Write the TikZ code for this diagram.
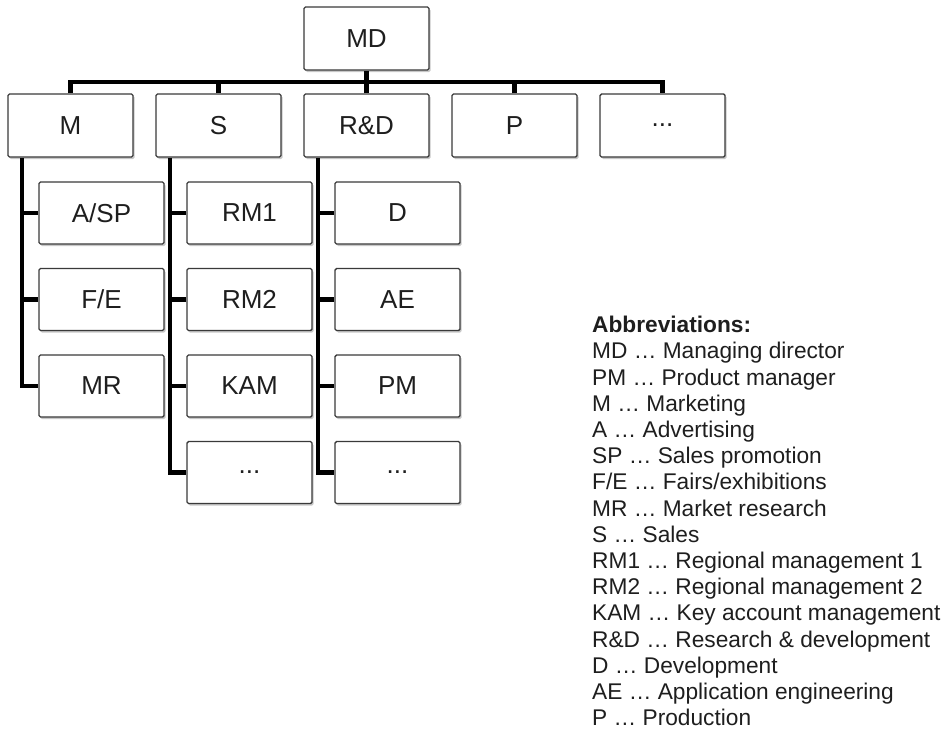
\documentclass[tikz,border=0pt]{standalone}
\usepackage{fontspec}
\setmainfont{Liberation Sans}
\usetikzlibrary{shadows,backgrounds}
\definecolor{ink}{HTML}{1E1E1E}
\definecolor{edge}{HTML}{3A3A3A}
\begin{document}
\begin{tikzpicture}[x=1pt,y=-1pt,
  unit/.style={draw=edge, line width=1.4pt, fill=white, rounded corners=1.5pt,
    minimum width=125pt, minimum height=63pt, inner sep=0pt, text=ink,
    font=\fontsize{26}{31}\selectfont,
    drop shadow={shadow xshift=1.5pt, shadow yshift=-2pt, opacity=0.22, fill=black}},
  subunit/.style={unit, minimum height=62pt},
  link/.style={line width=4.2pt, draw=black, line join=miter}]
\useasboundingbox (0,0) rectangle (949,744);

% top management
\node[unit] (md) at (366.5,38.5) {MD};

% departments
\node[unit] (m)    at (70.5,125.5)  {M};
\node[unit] (s)    at (218.5,125.5) {S};
\node[unit] (rd)   at (366.5,125.5) {R\&D};
\node[unit] (p)    at (514.5,125.5) {P};
\node[unit] (more) at (662.5,125.5) {...};

% marketing units
\node[subunit] (asp) at (101.5,213)   {A/SP};
\node[subunit] (fe)  at (101.5,299.5) {F/E};
\node[subunit] (mr)  at (101.5,386)   {MR};

% sales units
\node[subunit] (rm1)   at (249.5,213)   {RM1};
\node[subunit] (rm2)   at (249.5,299.5) {RM2};
\node[subunit] (kam)   at (249.5,386)   {KAM};
\node[subunit] (smore) at (249.5,472.5) {...};

% R&D units
\node[subunit] (d)     at (397.5,213)   {D};
\node[subunit] (ae)    at (397.5,299.5) {AE};
\node[subunit] (pm)    at (397.5,386)   {PM};
\node[subunit] (rmore) at (397.5,472.5) {...};

\begin{scope}[on background layer]
  % bus from the managing director to all departments
  \coordinate (bus) at (0,82);
  \draw[link] (md.south) -- (md.south |- bus);
  \draw[link] (m.north) |- (bus -| more.north) -- (more.north);
  \draw[link] (s.north)  -- (s.north |- bus);
  \draw[link] (rd.north) -- (rd.north |- bus);
  \draw[link] (p.north)  -- (p.north |- bus);

  % marketing spine
  \draw[link] ([xshift=15pt]m.south west) coordinate (mt) |- (mr.west);
  \draw[link] (asp.west) -- (asp.west -| mt);
  \draw[link] (fe.west)  -- (fe.west -| mt);

  % sales spine
  \draw[link] ([xshift=15pt]s.south west) coordinate (st) |- (smore.west);
  \draw[link] (rm1.west) -- (rm1.west -| st);
  \draw[link] (rm2.west) -- (rm2.west -| st);
  \draw[link] (kam.west) -- (kam.west -| st);

  % R&D spine
  \draw[link] ([xshift=15pt]rd.south west) coordinate (rt) |- (rmore.west);
  \draw[link] (d.west)  -- (d.west -| rt);
  \draw[link] (ae.west) -- (ae.west -| rt);
  \draw[link] (pm.west) -- (pm.west -| rt);
\end{scope}

% legend
\node[anchor=north west, inner sep=0pt, align=left, text=ink,
      font=\fontsize{22.7}{26.2}\selectfont] (abbr) at (592,316)
  {\textbf{Abbreviations:}\\
   MD … Managing director\\
   PM … Product manager\\
   M … Marketing\\
   A … Advertising\\
   SP … Sales promotion\\
   F/E … Fairs/exhibitions\\
   MR … Market research\\
   S … Sales\\
   RM1 … Regional management 1\\
   RM2 … Regional management 2\\
   KAM … Key account management\\
   R\&D … Research \& development\\
   D … Development\\
   AE … Application engineering\\
   P … Production};
\end{tikzpicture}
\end{document}
